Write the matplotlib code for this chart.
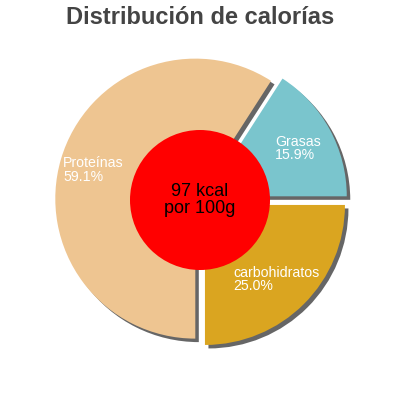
# Distribucion de calorias - donut-ish pie with exploded slices
import matplotlib
matplotlib.use('Agg')
import matplotlib.pyplot as plt
from matplotlib.patches import Wedge, Circle

plt.rcParams['font.family'] = ['Liberation Sans', 'DejaVu Sans']

labels = ['Grasas', 'Proteínas', 'carbohidratos']
values = [15.9, 59.1, 25.0]
colors = ['#7AC5CD', '#EEC591', '#DAA520']
explode = [0.055, 0.035, 0.05]
kcal = 97
title = 'Distribución de calorías'

# label anchor points (data units, radius 1 = 140 px)
label_pos = [(0.536, 0.371), (-0.979, 0.214), (0.236, -0.571)]

fig = plt.figure(figsize=(4, 4), dpi=100)
ax = fig.add_axes([0, 0, 1, 1])

wedges, _ = ax.pie(values, colors=colors, explode=explode, startangle=0,
                   counterclock=True, radius=1.0,
                   wedgeprops=dict(linewidth=0, zorder=2))

# shadows
sh = 0.025
for w in wedges:
    cx, cy = w.center
    s = Wedge((cx + sh, cy - sh), w.r, w.theta1, w.theta2,
              facecolor='#666666', edgecolor='none', zorder=1)
    ax.add_patch(s)

ax.add_patch(Circle((0, 0), 0.5, facecolor='#FF0000', edgecolor='none', zorder=3))
ax.text(0, 0, f'{kcal} kcal\npor 100g', ha='center', va='center',
        fontsize=13, color='black', zorder=4, linespacing=1.0)

for lab, v, (x, y) in zip(labels, values, label_pos):
    ax.text(x, y, f'{lab}\n{v:.1f}%', ha='left', va='center', fontsize=10.2,
            color='white', zorder=4, linespacing=0.92)

L = 200 / 140
ax.set_xlim(-L, L)
ax.set_ylim(-L, L)
ax.set_aspect('equal')
ax.axis('off')

fig.text(0.5, 1 - 18 / 400, title, ha='center', va='center', fontsize=17,
         fontweight='bold', color='#444444')

fig.savefig('out.png', dpi=100)
